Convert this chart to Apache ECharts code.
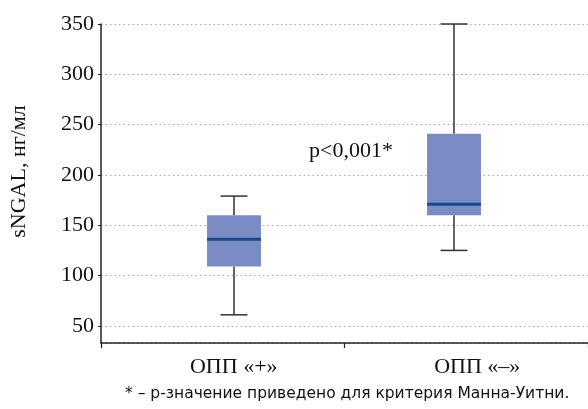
<!DOCTYPE html>
<html><head><meta charset="utf-8">
<script src="https://cdn.jsdelivr.net/npm/echarts@6/dist/echarts.min.js"></script>
<style>html,body{margin:0;padding:0;background:#fff}#c{width:588px;height:409px}</style>
</head><body><div id="c"></div>
<script>
const categories = ['ОПП «+»', 'ОПП «–»'];
// [min, Q1, median, Q3, max]
const boxValues = [
  [61, 109, 136, 160, 179],
  [125, 160, 171, 241, 350]
];
const yTitle = 'sNGAL, нг/мл';
const pLabel = 'p<0,001*';
const footnote = '* – р-значение приведено для критерия Манна-Уитни.';

const serif = '"Liberation Serif", "DejaVu Serif", serif';
const chart = echarts.init(document.getElementById('c'), null, {renderer: 'canvas'});

const seriesData = boxValues.map((v, i) => [i].concat(v));

chart.setOption({
  animation: false,
  grid: [
    {left: 99, right: 0, top: 24, bottom: 66},
    {left: 124, right: 24, top: 24, bottom: 66}
  ],
  xAxis: [
    {
      type: 'category', gridIndex: 0, data: categories, boundaryGap: true,
      axisLine: {lineStyle: {color: '#222', width: 1.5}},
      axisTick: {show: true, length: 5, lineStyle: {color: '#222', width: 1.2}},
      axisLabel: {fontFamily: serif, fontSize: 22, color: '#111', margin: 13, padding: [0, 0, 0, 22]}
    },
    {type: 'category', gridIndex: 1, data: categories, show: false}
  ],
  yAxis: [
    {
      type: 'value', gridIndex: 0, min: 33, max: 350, splitNumber: 6,
      name: yTitle, nameLocation: 'middle', nameGap: 71, nameRotate: 90,
      nameTextStyle: {fontFamily: serif, fontSize: 22, color: '#111', padding: [0, 0, 0, 24]},
      axisLine: {show: true, lineStyle: {color: '#222', width: 1.5}},
      axisTick: {show: true, length: 3, lineStyle: {color: '#222'}},
      axisLabel: {fontFamily: serif, fontSize: 22, color: '#111', margin: 7, showMinLabel: false},
      splitLine: {show: true, lineStyle: {type: [1.5, 3], color: '#aaa', width: 1}}
    },
    {type: 'value', gridIndex: 1, min: 33, max: 350, show: false}
  ],
  series: [{
    type: 'custom',
    xAxisIndex: 1, yAxisIndex: 1,
    data: seriesData,
    encode: {x: 0, y: [1, 2, 3, 4, 5]},
    renderItem: function (params, api) {
      const idx = api.value(0);
      const pLow = api.coord([idx, api.value(1)]);
      const pQ1 = api.coord([idx, api.value(2)]);
      const pMed = api.coord([idx, api.value(3)]);
      const pQ3 = api.coord([idx, api.value(4)]);
      const pHigh = api.coord([idx, api.value(5)]);
      const band = api.size([1, 0])[0];
      const bw = band * 0.245;
      const cw = band * 0.123;
      const cx = pQ1[0];
      const lineStyle = {stroke: '#333', lineWidth: 1.5};
      return {
        type: 'group',
        children: [
          {type: 'line', shape: {x1: cx, y1: pHigh[1], x2: cx, y2: pQ3[1]}, style: lineStyle},
          {type: 'line', shape: {x1: cx, y1: pLow[1], x2: cx, y2: pQ1[1]}, style: lineStyle},
          {type: 'line', shape: {x1: cx - cw / 2, y1: pHigh[1], x2: cx + cw / 2, y2: pHigh[1]}, style: lineStyle},
          {type: 'line', shape: {x1: cx - cw / 2, y1: pLow[1], x2: cx + cw / 2, y2: pLow[1]}, style: lineStyle},
          {type: 'rect', shape: {x: cx - bw / 2, y: pQ3[1], width: bw, height: pQ1[1] - pQ3[1]}, style: {fill: '#7b8cc4'}},
          {type: 'line', shape: {x1: cx - bw / 2, y1: pMed[1], x2: cx + bw / 2, y2: pMed[1]}, style: {stroke: '#174a8b', lineWidth: 3}}
        ]
      };
    }
  }],
  graphic: [
    {type: 'text', left: 309, top: 140, style: {text: pLabel, font: '22px ' + serif, fill: '#111'}},
    {type: 'text', left: 125, top: 386, style: {text: footnote, font: '15.5px "DejaVu Sans", sans-serif', fill: '#111'}}
  ]
});
</script>
</body></html>
